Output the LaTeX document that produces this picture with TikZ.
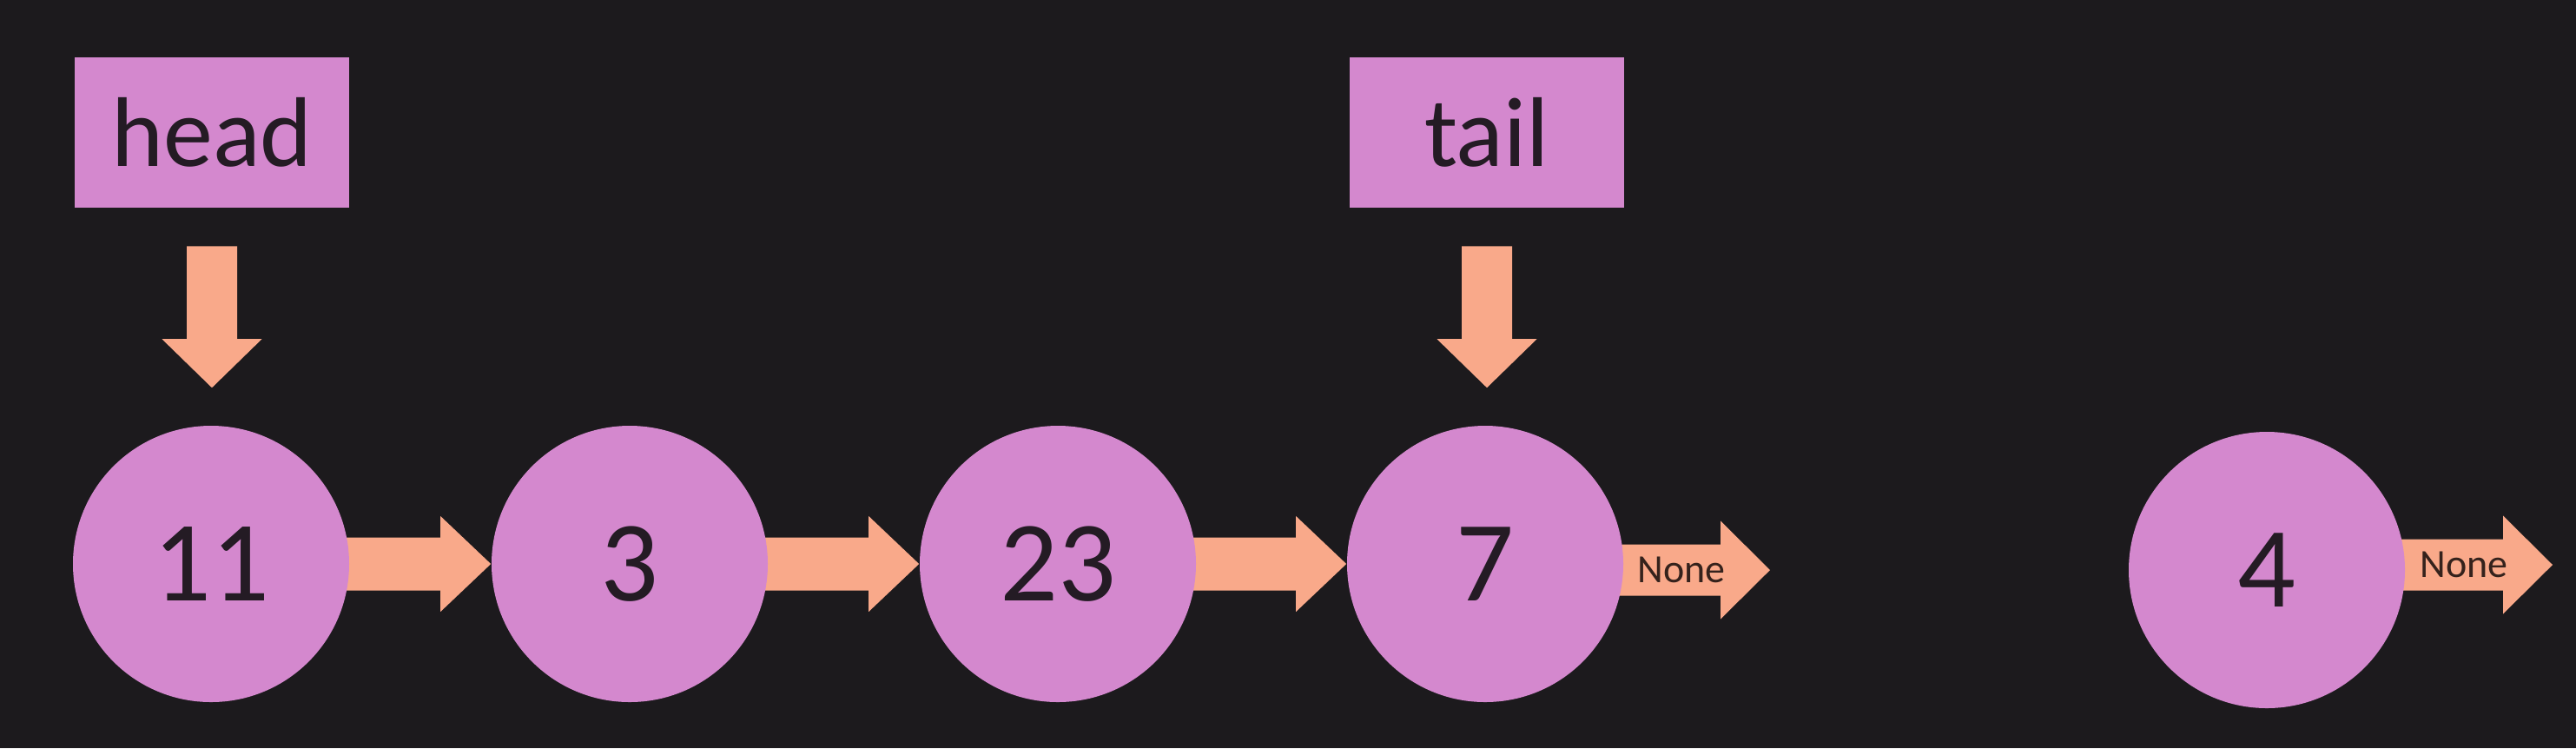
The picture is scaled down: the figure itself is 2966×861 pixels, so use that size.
\documentclass[tikz,border=0pt]{standalone}
\usepackage{fontspec}
\setmainfont{Carlito}
\usetikzlibrary{calc}
\definecolor{bgc}{HTML}{1C1A1D}
\definecolor{pinkc}{HTML}{D488CE}
\definecolor{arrowc}{HTML}{F9A98A}
\definecolor{txtc}{HTML}{241B24}
\definecolor{nonec}{HTML}{35221C}
\pgfdeclarelayer{bgl}
\pgfdeclarelayer{arrl}
\pgfsetlayers{bgl,arrl,main}
% horizontal block arrow: start, tip, shaft half width, head half width, head length
\newcommand\blockarrowh[5]{%
  \fill[arrowc] ($(#1)+(0,-#3)$) -- ($(#2)+(-#5,-#3)$) -- ($(#2)+(-#5,-#4)$) -- (#2)
    -- ($(#2)+(-#5,#4)$) -- ($(#2)+(-#5,#3)$) -- ($(#1)+(0,#3)$) -- cycle;}
% vertical (downward) block arrow: start (top), tip (bottom), shaft half, head half, head length
\newcommand\blockarrowv[5]{%
  \fill[arrowc] ($(#1)+(-#3,0)$) -- ($(#2)+(-#3,-#5)$) -- ($(#2)+(-#4,-#5)$) -- (#2)
    -- ($(#2)+(#4,-#5)$) -- ($(#2)+(#3,-#5)$) -- ($(#1)+(#3,0)$) -- cycle;}
\begin{document}
\begin{tikzpicture}[x=0.25pt,y=-0.25pt,
  box/.style={rectangle, fill=pinkc, minimum width=79pt, minimum height=43.25pt,
    inner sep=0pt, text=txtc, font=\fontsize{28.5}{31}\selectfont},
  listnode/.style={circle, fill=pinkc, minimum size=79.5pt, inner sep=0pt,
    text=txtc, font=\fontsize{33}{36}\selectfont},
  nonelabel/.style={text=nonec, inner sep=0pt, font=\fontsize{11.5}{13}\selectfont}]
\begin{pgfonlayer}{bgl}
  \fill[bgc] (0,0) rectangle (2966,861);
\end{pgfonlayer}
\useasboundingbox (0,0) rectangle (2966,861);

% pointer boxes
\node[box] (head) at (244,152) {head};
\node[box] (tail) at (1712,152) {tail};

% list nodes
\node[listnode] (n11) at (243,649) {11};
\node[listnode] (n3)  at (725,649) {3};
\node[listnode] (n23) at (1218,649) {23};
\node[listnode] (n7)  at (1710,649) {7};
\node[listnode] (n4)  at (2610,656) {4};

% helper coordinates
\coordinate (hs) at ($(head.south)+(0,44)$);
\coordinate (ht) at ($(head.south |- n11.north)+(0,-43)$);
\coordinate (ts) at ($(tail.south)+(0,44)$);
\coordinate (tt) at ($(tail.south |- n7.north)+(0,-43)$);
\coordinate (s7) at ($(n7.center)+(0,7)$);
\coordinate (t7) at ($(n7.center)+(328,7)$);
\coordinate (s4) at ($(n4.center)+(0,-6)$);
\coordinate (t4) at ($(n4.center)+(329,-6)$);

\begin{pgfonlayer}{arrl}
  \blockarrowv{hs}{ht}{29}{57.5}{56}
  \blockarrowv{ts}{tt}{29}{57.5}{56}
  \blockarrowh{n11.center}{n3.west}{30.5}{55}{58}
  \blockarrowh{n3.center}{n23.west}{30.5}{55}{58}
  \blockarrowh{n23.center}{n7.west}{30.5}{55}{58}
  \blockarrowh{s7}{t7}{29.5}{56.5}{57}
  \blockarrowh{s4}{t4}{29.5}{56.5}{57}
\end{pgfonlayer}

\node[nonelabel] (none7) at ($(t7)+(-102,0)$) {None};
\node[nonelabel] (none4) at ($(t4)+(-102,0)$) {None};
\end{tikzpicture}
\end{document}
